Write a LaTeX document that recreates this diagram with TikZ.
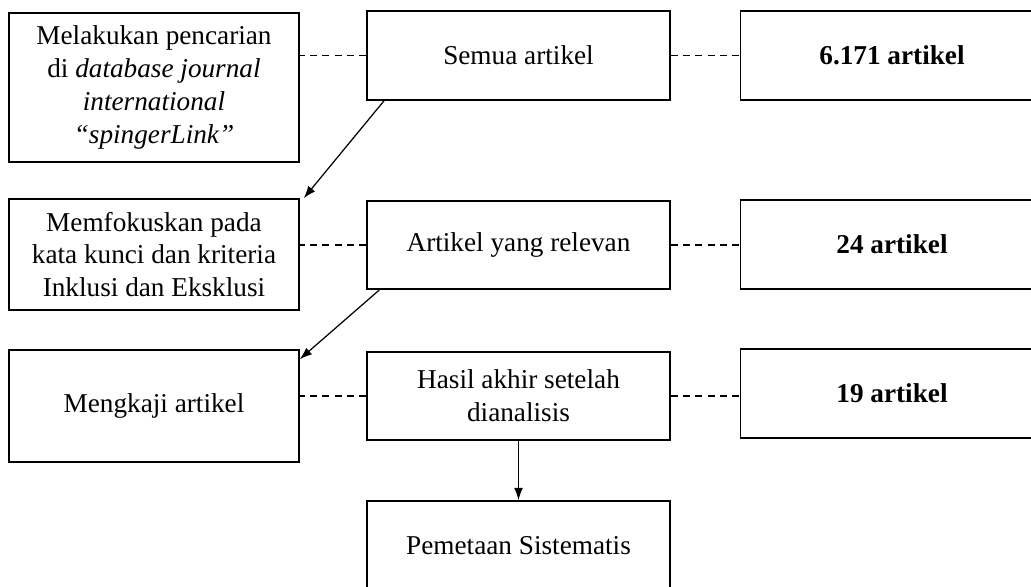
\documentclass[tikz,border=0pt]{standalone}
\usepackage{fontspec}
\setmainfont{Liberation Serif}
\usepackage{tikz}
\usetikzlibrary{arrows.meta}

\tikzset{
  kotak/.style={draw,line width=0.9pt,align=center,inner sep=2pt,
    font=\fontsize{15.5}{18.7}\selectfont},
  kiri/.style={kotak,minimum width=5.8cm},
  tengah/.style={kotak,minimum width=6.06cm,minimum height=1.77cm},
  putus/.style={line width=0.6pt,dash pattern=on 4pt off 3pt},
  panah/.style={-{Latex[length=7pt,width=5pt]},line width=0.7pt}
}

\begin{document}
\begin{tikzpicture}[x=0.02cm,y=-0.02cm]
            \useasboundingbox (0,0) rectangle (1031,586);
            \clip (0,0) rectangle (1031,586);
            % kolom kiri
            \node[kiri,minimum height=2.98cm] (l1) at (154,87.5)
            {Melakukan pencarian\\di \textit{database journal}\\\textit{international}\\\textit{“spingerLink”}};
            \node[kiri,minimum height=2.22cm] (l2) at (154,254.5)
            {Memfokuskan pada\\kata kunci dan kriteria\\Inklusi dan Eksklusi};
            \node[kiri,minimum height=2.24cm] (l3) at (154,406) {Mengkaji artikel};
            % kolom tengah
            \node[tengah] (m1) at (518.5,55.5) {Semua artikel};
            \node[tengah] (m2) at (518.5,245) {Artikel yang relevan};
            \node[tengah] (m3) at (518.5,396) {Hasil akhir setelah\\dianalisis};
            \node[tengah,minimum height=1.8cm] (m4) at (518.5,546) {Pemetaan Sistematis};
            % kolom kanan
            \node[tengah,font=\fontsize{15.5}{18.7}\selectfont\bfseries] (r1) at (892,55.5) {6.171 artikel};
            \node[tengah,font=\fontsize{15.5}{18.7}\selectfont\bfseries] (r2) at (892,244.5) {24 artikel};
            \node[tengah,font=\fontsize{15.5}{18.7}\selectfont\bfseries] (r3) at (892,393.5) {19 artikel};
            % garis putus-putus
            \draw[putus] (m1.west) -- (m1.west -| l1.east) (m1.east) -- (m1.east -| r1.west);
            \draw[putus] (m2.west) -- (m2.west -| l2.east) (m2.east) -- (m2.east -| r2.west);
            \draw[putus] (m3.west) -- (m3.west -| l3.east) (m3.east) -- (m3.east -| r3.west);
            % panah
            \draw[panah] ([xshift=0.36cm]m1.south west) -- ([xshift=0.08cm]l2.north east);
            \draw[panah] ([xshift=0.26cm]m2.south west) -- ([yshift=-0.2cm]l3.north east);
            \draw[panah] (m3.south) -- (m4.north);
        \end{tikzpicture}
\end{document}
